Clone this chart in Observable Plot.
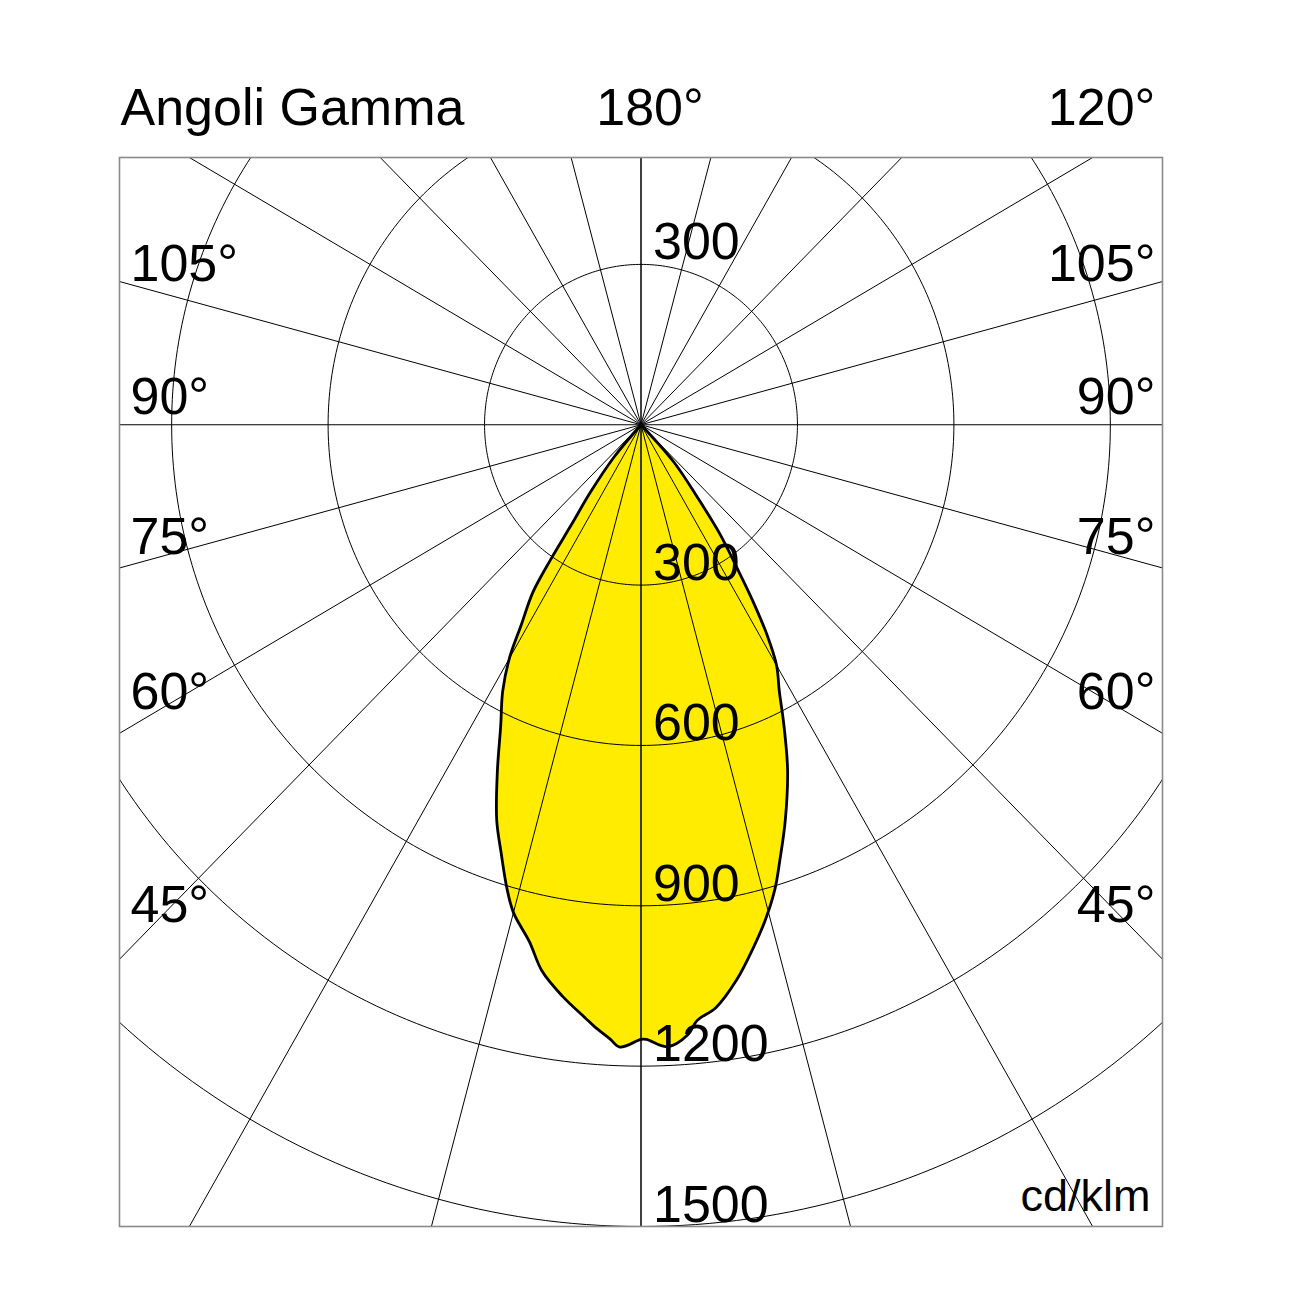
<!DOCTYPE html>
<html>
<head>
<meta charset="utf-8">
<script src="https://cdn.jsdelivr.net/npm/d3@7"></script>
<script src="https://cdn.jsdelivr.net/npm/@observablehq/plot@0.6"></script>
<style>
  html, body { margin: 0; padding: 0; background: #fff; }
</style>
</head>
<body>
<div id="chart"></div>
<script>
// ---------- data ----------
const title = "Angoli Gamma";
const unitLabel = "cd/klm";
const gammaTicks = [0, 15, 30, 45, 60, 75, 90, 105, 120, 135, 150, 165, 180];
const sideGammaLabels = [105, 90, 75, 60, 45];
const topGammaLabels = [180, 120];
const intensityTicks = [300, 600, 900, 1200, 1500];
const upperIntensityLabels = [300];

// left half-plane: gamma (deg) and intensity (cd/klm)
const gammaLeft = [45, 40.5, 37.5, 35.5, 34.5, 33.5, 31.5, 30, 28, 25.5, 23, 20.5, 18.5, 16.5, 15, 12.5, 10.5, 8, 5.5, 4.5, 3, 2, 0];
const intensityLeft = [0, 80, 160, 230, 305, 375, 440, 505, 565, 625, 705, 790, 845, 905, 945, 990, 1040, 1080, 1115, 1130, 1150, 1165, 1150];
// right half-plane
const gammaRight = [0.5, 2.5, 4.5, 5.5, 7.5, 10, 12.5, 14.5, 16.5, 18, 20.5, 23.5, 26, 28, 30, 31.5, 33, 34.5, 36.5, 38.5, 42, 45];
const intensityRight = [1150, 1165, 1145, 1120, 1100, 1055, 1000, 955, 905, 860, 790, 705, 625, 565, 520, 465, 395, 325, 255, 175, 95, 0];

// ---------- layout ----------
const W = 1302, H = 1302;
const mL = 119, mR = 140, mT = 157, mB = 76;
const xDomain = [-1000, 1000], yDomain = [-1500, 500];
const sy = (H - mT - mB) / (yDomain[1] - yDomain[0]);
const rad = d => d * Math.PI / 180;
const FONT = "'Liberation Sans', Arial, Helvetica, sans-serif";
const labelLift = {105: 1, 90: 11, 75: 14, 60: 24, 45: 37};

// lobe polygon (through the polar transform)
const lobe = [
  ...gammaLeft.map((g, i) => ({x: -intensityLeft[i] * Math.sin(rad(g)), y: -intensityLeft[i] * Math.cos(rad(g))})),
  ...gammaRight.map((g, i) => ({x: intensityRight[i] * Math.sin(rad(g)), y: -intensityRight[i] * Math.cos(rad(g))}))
];

// grid circles
const circlePts = intensityTicks.flatMap(r =>
  d3.range(0, 361, 1).map(a => ({r, x: r * Math.sin(rad(a)), y: r * Math.cos(rad(a))})));

// spokes
const R = 4000;
const spokes = gammaTicks.flatMap(g => [-1, 1].map(s => ({
  x2: s * R * Math.sin(rad(g)), y2: -R * Math.cos(rad(g))
})));

const sideLabelY = g => -xDomain[1] / Math.tan(rad(g)) + labelLift[g] / sy;

const chart = Plot.plot({
  width: W, height: H,
  marginLeft: mL, marginRight: mR, marginTop: mT, marginBottom: mB,
  x: {domain: xDomain, axis: null},
  y: {domain: yDomain, axis: null},
  style: {fontFamily: FONT, background: "#fff", color: "#000", overflow: "visible"},
  marks: [
    Plot.line(lobe, {x: "x", y: "y", fill: "#ffec00", stroke: "none", curve: "catmull-rom"}),
    Plot.link(spokes, {x1: 0, y1: 0, x2: "x2", y2: "y2", stroke: "#000", strokeWidth: 1, clip: true}),
    Plot.line(circlePts, {x: "x", y: "y", z: "r", stroke: "#000", strokeWidth: 1, clip: true}),
    Plot.line(lobe, {x: "x", y: "y", fill: "none", stroke: "#000", strokeWidth: 2.8, curve: "catmull-rom"}),
    Plot.frame({stroke: "#8a8a8a", strokeWidth: 1.6}),
    // value labels
    Plot.text(intensityTicks, {x: 0, y: d => -d, text: d => String(d), dx: 12, dy: -5,
      textAnchor: "start", lineAnchor: "bottom", fontSize: 52}),
    Plot.text(upperIntensityLabels, {x: 0, y: d => d, text: d => String(d), dx: 12, dy: -5,
      textAnchor: "start", lineAnchor: "bottom", fontSize: 52}),
    // side angle labels
    Plot.text(sideGammaLabels, {x: xDomain[0], y: sideLabelY, text: d => d + "°", dx: 11,
      textAnchor: "start", lineAnchor: "bottom", fontSize: 52}),
    Plot.text(sideGammaLabels, {x: xDomain[1], y: sideLabelY, text: d => d + "°", dx: -7,
      textAnchor: "end", lineAnchor: "bottom", fontSize: 52}),
    // top angle labels
    Plot.text(topGammaLabels, {x: g => yDomain[1] * Math.tan(rad(180 - g)), y: yDomain[1], text: d => d + "°",
      dx: 9, dy: -33, textAnchor: "middle", lineAnchor: "bottom", fontSize: 52}),
    Plot.text([title], {frameAnchor: "top-left", text: d => d, dx: 1, dy: -33,
      textAnchor: "start", lineAnchor: "bottom", fontSize: 52}),
    Plot.text([unitLabel], {frameAnchor: "bottom-right", text: d => d, dx: -12, dy: -16,
      textAnchor: "end", lineAnchor: "bottom", fontSize: 45})
  ]
});
document.getElementById("chart").appendChild(chart);
</script>
</body>
</html>
